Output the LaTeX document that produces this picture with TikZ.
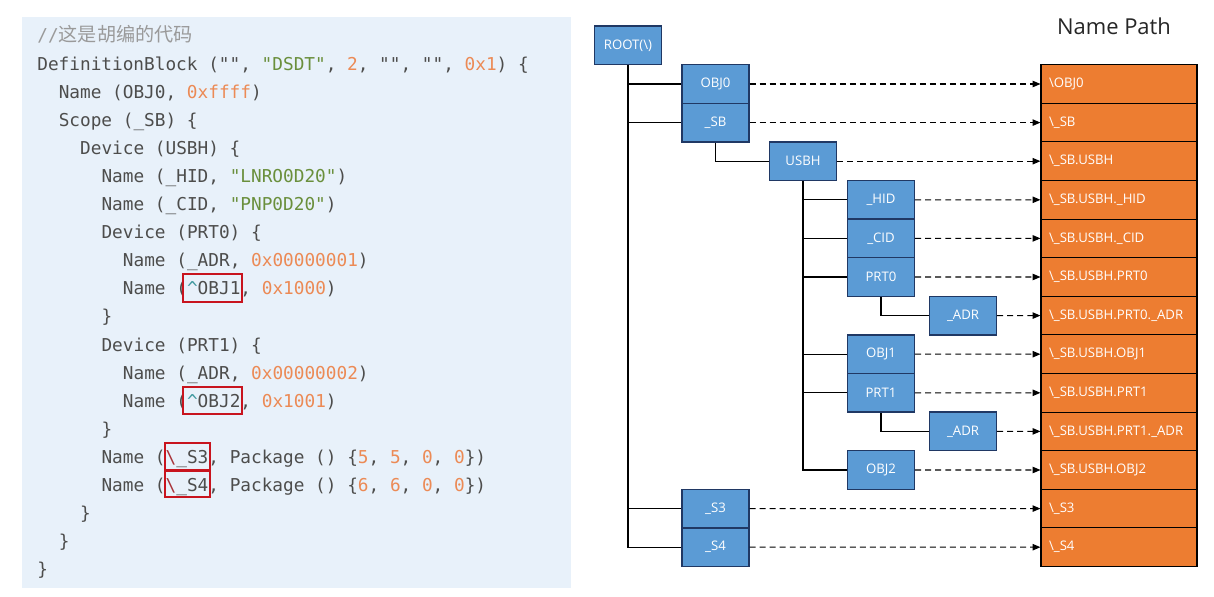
\documentclass[tikz,border=0pt]{standalone}
\usepackage{fontspec}
\usepackage{xcolor}
\usetikzlibrary{arrows.meta}

\setmainfont{Open Sans}
\newfontfamily\codefont{DejaVu Sans Mono}
\newfontfamily\cjk{Noto Sans CJK SC}

\definecolor{codebg}{HTML}{E8F1FA}
\definecolor{codetext}{HTML}{4D4D4C}
\definecolor{codegray}{HTML}{9A9A9A}
\definecolor{codestr}{HTML}{6A8F3C}
\definecolor{codenum}{HTML}{EC8A55}
\definecolor{codecaret}{HTML}{3E999F}
\definecolor{codeslash}{HTML}{A8343A}
\definecolor{codered}{HTML}{C8141E}
\definecolor{blkfill}{HTML}{5B9BD5}
\definecolor{blkborder}{HTML}{203864}
\definecolor{pathfill}{HTML}{ED7D31}

\newcommand\cstr[1]{\textcolor{codestr}{#1}}
\newcommand\cnum[1]{\textcolor{codenum}{#1}}

\begin{document}
\begin{tikzpicture}[x=0.02cm,y=-0.02cm,
		blkbox/.style={draw=blkborder,fill=blkfill,text=white,line width=0.8pt,
			font=\fontsize{7.5pt}{9pt}\selectfont,
			minimum width=1.34cm,minimum height=0.772cm,inner sep=0pt},
		pathcell/.style={draw=black,fill=pathfill,text=white,line width=0.6pt,
			font=\fontsize{7.5pt}{9pt}\selectfont,align=left,
			text width=2.8cm,inner xsep=0.16cm,inner ysep=0pt,minimum height=0.772cm},
		tree/.style={draw=black,line width=0.7pt},
		link/.style={draw=black,line width=0.6pt,dash pattern=on 3.4pt off 2.3pt,
			-{Triangle[length=1.6mm,width=1.3mm]}},
		codeline/.style={anchor=base west,inner sep=0pt,text=codetext,
			font=\codefont\fontsize{10.1pt}{12pt}\selectfont},
		redbox/.style={draw=codered,line width=1.1pt}]
	\useasboundingbox (0,0) rectangle (1214,597);
	
	% code panel
	\fill[codebg] (22,17) rectangle (571,588);
	\node[codeline] (c0) at (37,42) {\textcolor{codegray}{//{\cjk\fontsize{10.9pt}{12pt}\selectfont 这是胡编的代码}}};
	\node[codeline] (c1) at (37,70.1) {DefinitionBlock ("", \cstr{"DSDT"}, \cnum{2}, "", "", \cnum{0x1}) \{};
	\node[codeline] (c2) at (58.4,98.2) {Name (OBJ0, \cnum{0xffff})};
	\node[codeline] (c3) at (58.4,126.3) {Scope (\_SB) \{};
	\node[codeline] (c4) at (79.8,154.4) {Device (USBH) \{};
	\node[codeline] (c5) at (101.2,182.5) {Name (\_HID, \cstr{"LNRO0D20"})};
	\node[codeline] (c6) at (101.2,210.6) {Name (\_CID, \cstr{"PNP0D20"})};
	\node[codeline] (c7) at (101.2,238.7) {Device (PRT0) \{};
	\node[codeline] (c8) at (122.6,266.8) {Name (\_ADR, \cnum{0x00000001})};
	\node[codeline] (c9) at (122.6,294.9) {Name (\textcolor{codecaret}{\textasciicircum}OBJ1, \cnum{0x1000})};
	\node[codeline] (c10) at (101.2,323) {\}};
	\node[codeline] (c11) at (101.2,351.1) {Device (PRT1) \{};
	\node[codeline] (c12) at (122.6,379.2) {Name (\_ADR, \cnum{0x00000002})};
	\node[codeline] (c13) at (122.6,407.3) {Name (\textcolor{codecaret}{\textasciicircum}OBJ2, \cnum{0x1001})};
	\node[codeline] (c14) at (101.2,435.4) {\}};
	\node[codeline] (c15) at (101.2,463.5) {Name (\textcolor{codeslash}{\textbackslash}\_S3, Package () \{\cnum{5}, \cnum{5}, \cnum{0}, \cnum{0}\})};
	\node[codeline] (c16) at (101.2,491.6) {Name (\textcolor{codeslash}{\textbackslash}\_S4, Package () \{\cnum{6}, \cnum{6}, \cnum{0}, \cnum{0}\})};
	\node[codeline] (c17) at (79.8,519.7) {\}};
	\node[codeline] (c18) at (58.4,547.8) {\}};
	\node[codeline] (c19) at (37,575.9) {\}};
	\draw[redbox] (183,274) rectangle (242,302);
	\draw[redbox] (183,387) rectangle (242,414);
	\draw[redbox] (165,443) rectangle (210,470);
	\draw[redbox] (165,471) rectangle (210,497);
	
	% name tree
	\node[font=\fontsize{12.5pt}{15pt}\selectfont,text=black!85] (title) at (1114,26) {Name Path};
	\node[blkbox] (root) at (628,45.4) {ROOT(\textbackslash)};
	\node[blkbox] (obj0) at (715.5,84) {OBJ0};
	\node[blkbox] (sb) at (715.5,122.6) {\_SB};
	\node[blkbox] (usbh) at (803,161.2) {USBH};
	\node[blkbox] (hid) at (881,199.8) {\_HID};
	\node[blkbox] (cid) at (881,238.4) {\_CID};
	\node[blkbox] (prt0) at (881,277) {PRT0};
	\node[blkbox] (adr0) at (963,315.6) {\_ADR};
	\node[blkbox] (obj1) at (881,354.2) {OBJ1};
	\node[blkbox] (prt1) at (881,392.8) {PRT1};
	\node[blkbox] (adr1) at (963,431.4) {\_ADR};
	\node[blkbox] (obj2) at (881,470) {OBJ2};
	\node[blkbox] (s3) at (715.5,508.6) {\_S3};
	\node[blkbox] (s4) at (715.5,547.2) {\_S4};
	
	\foreach \k/\t in {0/{\textbackslash OBJ0},1/{\textbackslash\_SB},2/{\textbackslash\_SB.USBH},
		3/{\textbackslash\_SB.USBH.\_HID},4/{\textbackslash\_SB.USBH.\_CID},5/{\textbackslash\_SB.USBH.PRT0},
		6/{\textbackslash\_SB.USBH.PRT0.\_ADR},7/{\textbackslash\_SB.USBH.OBJ1},8/{\textbackslash\_SB.USBH.PRT1},
		9/{\textbackslash\_SB.USBH.PRT1.\_ADR},10/{\textbackslash\_SB.USBH.OBJ2},11/{\textbackslash\_S3},12/{\textbackslash\_S4}}
		{\node[pathcell] (path\k) at (1119,{84+38.6*\k}) {\t};}
	
	\foreach \c in {obj0,sb,s3,s4}{\draw[tree] (root.south) |- (\c.west);}
	\draw[tree] (sb.south) |- (usbh.west);
	\foreach \c in {hid,cid,prt0,obj1,prt1,obj2}{\draw[tree] (usbh.south) |- (\c.west);}
	\draw[tree] (prt0.south) |- (adr0.west);
	\draw[tree] (prt1.south) |- (adr1.west);
	
	\foreach \n/\k in {obj0/0,sb/1,usbh/2,hid/3,cid/4,prt0/5,adr0/6,obj1/7,prt1/8,adr1/9,obj2/10,s3/11,s4/12}
		{\draw[link] (\n.east) -- (path\k.west);}
\end{tikzpicture}
\end{document}
